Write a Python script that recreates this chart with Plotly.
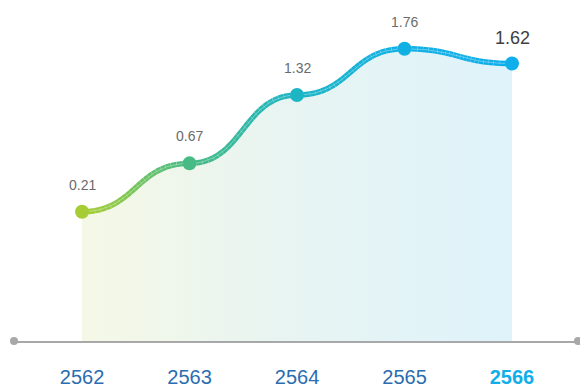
import numpy as np
import plotly.graph_objects as go

# Data
YEARS = ["2562", "2563", "2564", "2565", "2566"]
VALUES = [0.21, 0.67, 1.32, 1.76, 1.62]
POINT_COLORS = ["#a6cd34", "#46bb84", "#1db5c4", "#10b0e5", "#10aeea"]

# Axis extents
Y_MIN, Y_MAX = -1.02, 2.224
X_MIN, X_MAX = -0.633, 4.614

FILL_STOPS = [[0.0, "#f5f8e6"], [0.5, "#e7f4f2"], [1.0, "#dff3fb"]]


def hex_to_rgb(h):
    h = h.lstrip("#")
    return tuple(int(h[i:i + 2], 16) for i in (0, 2, 4))


def mix(c0, c1, t):
    a, b = hex_to_rgb(c0), hex_to_rgb(c1)
    return "rgb({},{},{})".format(*[round(a[k] + (b[k] - a[k]) * t) for k in range(3)])


def bump_segment(x0, y0, x1, y1, n=24):
    """Cubic Bezier with horizontal tangents at both ends (bump-x curve)."""
    t = np.linspace(0, 1, n)
    xm = (x0 + x1) / 2
    px = [x0, xm, xm, x1]
    py = [y0, y0, y1, y1]
    b = [(1 - t) ** 3, 3 * (1 - t) ** 2 * t, 3 * (1 - t) * t ** 2, t ** 3]
    xs = sum(b[k] * px[k] for k in range(4))
    ys = sum(b[k] * py[k] for k in range(4))
    return xs, ys


xi = list(range(len(YEARS)))
segments = [bump_segment(xi[i], VALUES[i], xi[i + 1], VALUES[i + 1]) for i in range(len(xi) - 1)]
curve_x = np.concatenate([s[0] if i == 0 else s[0][1:] for i, s in enumerate(segments)])
curve_y = np.concatenate([s[1] if i == 0 else s[1][1:] for i, s in enumerate(segments)])

fig = go.Figure()

# Gradient area under the curve
fig.add_trace(go.Scatter(
    x=list(curve_x) + [curve_x[-1], curve_x[0]],
    y=list(curve_y) + [Y_MIN, Y_MIN],
    mode="lines", line=dict(width=0), fill="toself",
    fillgradient=dict(type="horizontal", colorscale=FILL_STOPS),
    hoverinfo="skip", showlegend=False,
))

# Curve drawn in short pieces so its colour can shift between the points
for i, (sx, sy) in enumerate(segments):
    c0, c1 = POINT_COLORS[i], POINT_COLORS[i + 1]
    for j in range(len(sx) - 1):
        t = (j + 0.5) / (len(sx) - 1)
        fig.add_trace(go.Scatter(
            x=[sx[j], sx[j + 1]], y=[sy[j], sy[j + 1]], mode="lines",
            line=dict(color=mix(c0, c1, t), width=5.5),
            hoverinfo="skip", showlegend=False,
        ))

# Light sheen along the line
fig.add_trace(go.Scatter(
    x=curve_x, y=curve_y, mode="lines",
    line=dict(color="rgba(255,255,255,0.35)", width=1),
    hoverinfo="skip", showlegend=False,
))

# Points
fig.add_trace(go.Scatter(
    x=xi, y=VALUES, mode="markers",
    marker=dict(size=14, color=POINT_COLORS, line=dict(width=0)),
    cliponaxis=False, showlegend=False,
))

# Value labels
for i, v in enumerate(VALUES):
    last = i == len(VALUES) - 1
    fig.add_annotation(
        x=xi[i], y=v, text=f"{v:.2f}", showarrow=False,
        yshift=27 if not last else 25,
        font=dict(family="Liberation Sans, Arial, sans-serif",
                  size=18 if last else 14,
                  color="#404040" if last else "#6b6b6b"),
    )

ticktext = [
    y if i < len(YEARS) - 1 else f"<b><span style='color:#10aeea'>{y}</span></b>"
    for i, y in enumerate(YEARS)
]

# End caps of the baseline
for px in (0, 1):
    fig.add_shape(
        type="circle", xref="paper", yref="paper",
        xsizemode="pixel", ysizemode="pixel", xanchor=px, yanchor=0,
        x0=-4, x1=4, y0=-4, y1=4,
        fillcolor="#a8a8ab", line=dict(width=0),
    )

fig.update_layout(
    width=580, height=389,
    margin=dict(l=14, r=2, t=0, b=48),
    paper_bgcolor="white", plot_bgcolor="white",
    showlegend=False,
    xaxis=dict(
        range=[X_MIN, X_MAX], tickvals=xi, ticktext=ticktext,
        showgrid=False, zeroline=False, automargin=False,
        showline=True, linecolor="#a8a8ab", linewidth=2,
        ticks="", ticklabelstandoff=17,
        tickfont=dict(family="Liberation Sans, Arial, sans-serif", size=20, color="#2a6db0"),
    ),
    yaxis=dict(
        range=[Y_MIN, Y_MAX], visible=False, showgrid=False, zeroline=False,
        automargin=False,
    ),
)

fig.write_html("out.html")
